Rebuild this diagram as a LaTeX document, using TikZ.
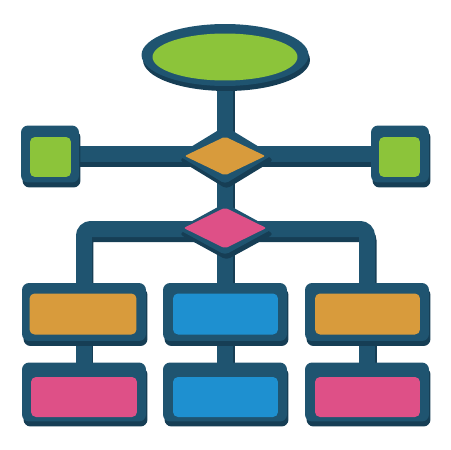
\documentclass[tikz,border=0pt]{standalone}
\usetikzlibrary{shapes.geometric,shadows}
\definecolor{edge}{HTML}{1F5470}
\definecolor{deep}{HTML}{163E55}
\definecolor{leaf}{HTML}{8CC43A}
\definecolor{amber}{HTML}{D89B3C}
\definecolor{rose}{HTML}{DE5087}
\definecolor{sky}{HTML}{1E90D0}
\pgfdeclarelayer{background}
\pgfsetlayers{background,main}
\tikzstyle{body}=[fill=edge,
                  inner sep=0,
                  general shadow={fill=deep, shadow xshift=0.03cm, shadow yshift=-0.1cm}]
\tikzstyle{face}=[inner sep=0,
                  draw=none]
\tikzstyle{box}=[shape=rectangle,
                 rounded corners=0.14cm]
\tikzstyle{pad}=[shape=rectangle,
                 rounded corners=0.1cm]
\tikzstyle{link}=[draw=edge,
                  line width=0.32cm,
                  rounded corners=0.14cm]
\tikzstyle{linkdepth}=[draw=deep,
                       line width=0.32cm,
                       rounded corners=0.14cm,
                       transform canvas={xshift=0.03cm, yshift=-0.1cm}]

\begin{document}
\begin{tikzpicture}[x=0.02cm,y=-0.02cm]
\useasboundingbox (0,0) rectangle (450,450);

% start
\node[body, ellipse, minimum width=3.34cm, minimum height=1.24cm] (start) at (225,55) {};
\node[face, ellipse, fill=leaf, minimum width=2.9cm, minimum height=0.94cm] (startin) at (225,57) {};

% side squares
\node[body, box, minimum width=1.16cm, minimum height=1.14cm] (lsq) at (50,154) {};
\node[face, pad, fill=leaf, minimum width=0.82cm, minimum height=0.8cm] (lsqin) at (50.5,157) {};
\node[body, box, minimum width=1.16cm, minimum height=1.14cm] (rsq) at (400,154) {};
\node[face, pad, fill=leaf, minimum width=0.82cm, minimum height=0.8cm] (rsqin) at (399.5,157) {};

% decisions
\node[body, diamond, rounded corners=0.08cm, minimum width=1.9cm, minimum height=1.16cm] (dec1) at (225,155) {};
\node[face, diamond, rounded corners=0.04cm, fill=amber, minimum width=1.62cm, minimum height=0.78cm] (dec1in) at (225,156) {};
\node[body, diamond, rounded corners=0.08cm, minimum width=1.9cm, minimum height=1.04cm] (dec2) at (225,229) {};
\node[face, diamond, rounded corners=0.04cm, fill=rose, minimum width=1.66cm, minimum height=0.82cm] (dec2in) at (225,228) {};

% first row
\node[body, box, minimum width=2.48cm, minimum height=1.16cm] (l1) at (84,312) {};
\node[face, pad, fill=amber, minimum width=2.14cm, minimum height=0.82cm] (l1in) at (83,314) {};
\node[body, box, minimum width=2.48cm, minimum height=1.16cm] (m1) at (225,312) {};
\node[face, pad, fill=sky, minimum width=2.1cm, minimum height=0.82cm] (m1in) at (225.5,314) {};
\node[body, box, minimum width=2.48cm, minimum height=1.16cm] (r1) at (367,312) {};
\node[face, pad, fill=amber, minimum width=2.1cm, minimum height=0.82cm] (r1in) at (367.5,314) {};

% second row
\node[body, box, minimum width=2.48cm, minimum height=1.18cm] (l2) at (84,392) {};
\node[face, pad, fill=rose, minimum width=2.12cm, minimum height=0.8cm] (l2in) at (84,397) {};
\node[body, box, minimum width=2.48cm, minimum height=1.18cm] (m2) at (225,392) {};
\node[face, pad, fill=sky, minimum width=2.1cm, minimum height=0.8cm] (m2in) at (225.5,397) {};
\node[body, box, minimum width=2.48cm, minimum height=1.18cm] (r2) at (367,392) {};
\node[face, pad, fill=rose, minimum width=2.1cm, minimum height=0.8cm] (r2in) at (367.5,397) {};

% links
\begin{pgfonlayer}{background}
\draw[linkdepth] (start.center) -- (dec1.center);
\draw[linkdepth] (lsq.center) -- (rsq.center);
\draw[linkdepth] (dec1.center) -- (dec2.center);
\draw[linkdepth] (dec2.center) -| (l1.center);
\draw[linkdepth] (dec2.center) -| (r1.center);
\draw[linkdepth] (dec2.center) -- (m1.center);
\draw[linkdepth] (l1.center) -- (l2.center);
\draw[linkdepth] (m1.center) -- (m2.center);
\draw[linkdepth] (r1.center) -- (r2.center);

\draw[link] (start.center) -- (dec1.center);
\draw[link] (lsq.center) -- (rsq.center);
\draw[link] (dec1.center) -- (dec2.center);
\draw[link] (dec2.center) -| (l1.center);
\draw[link] (dec2.center) -| (r1.center);
\draw[link] (dec2.center) -- (m1.center);
\draw[link] (l1.center) -- (l2.center);
\draw[link] (m1.center) -- (m2.center);
\draw[link] (r1.center) -- (r2.center);
\end{pgfonlayer}

\end{tikzpicture}
\end{document}
